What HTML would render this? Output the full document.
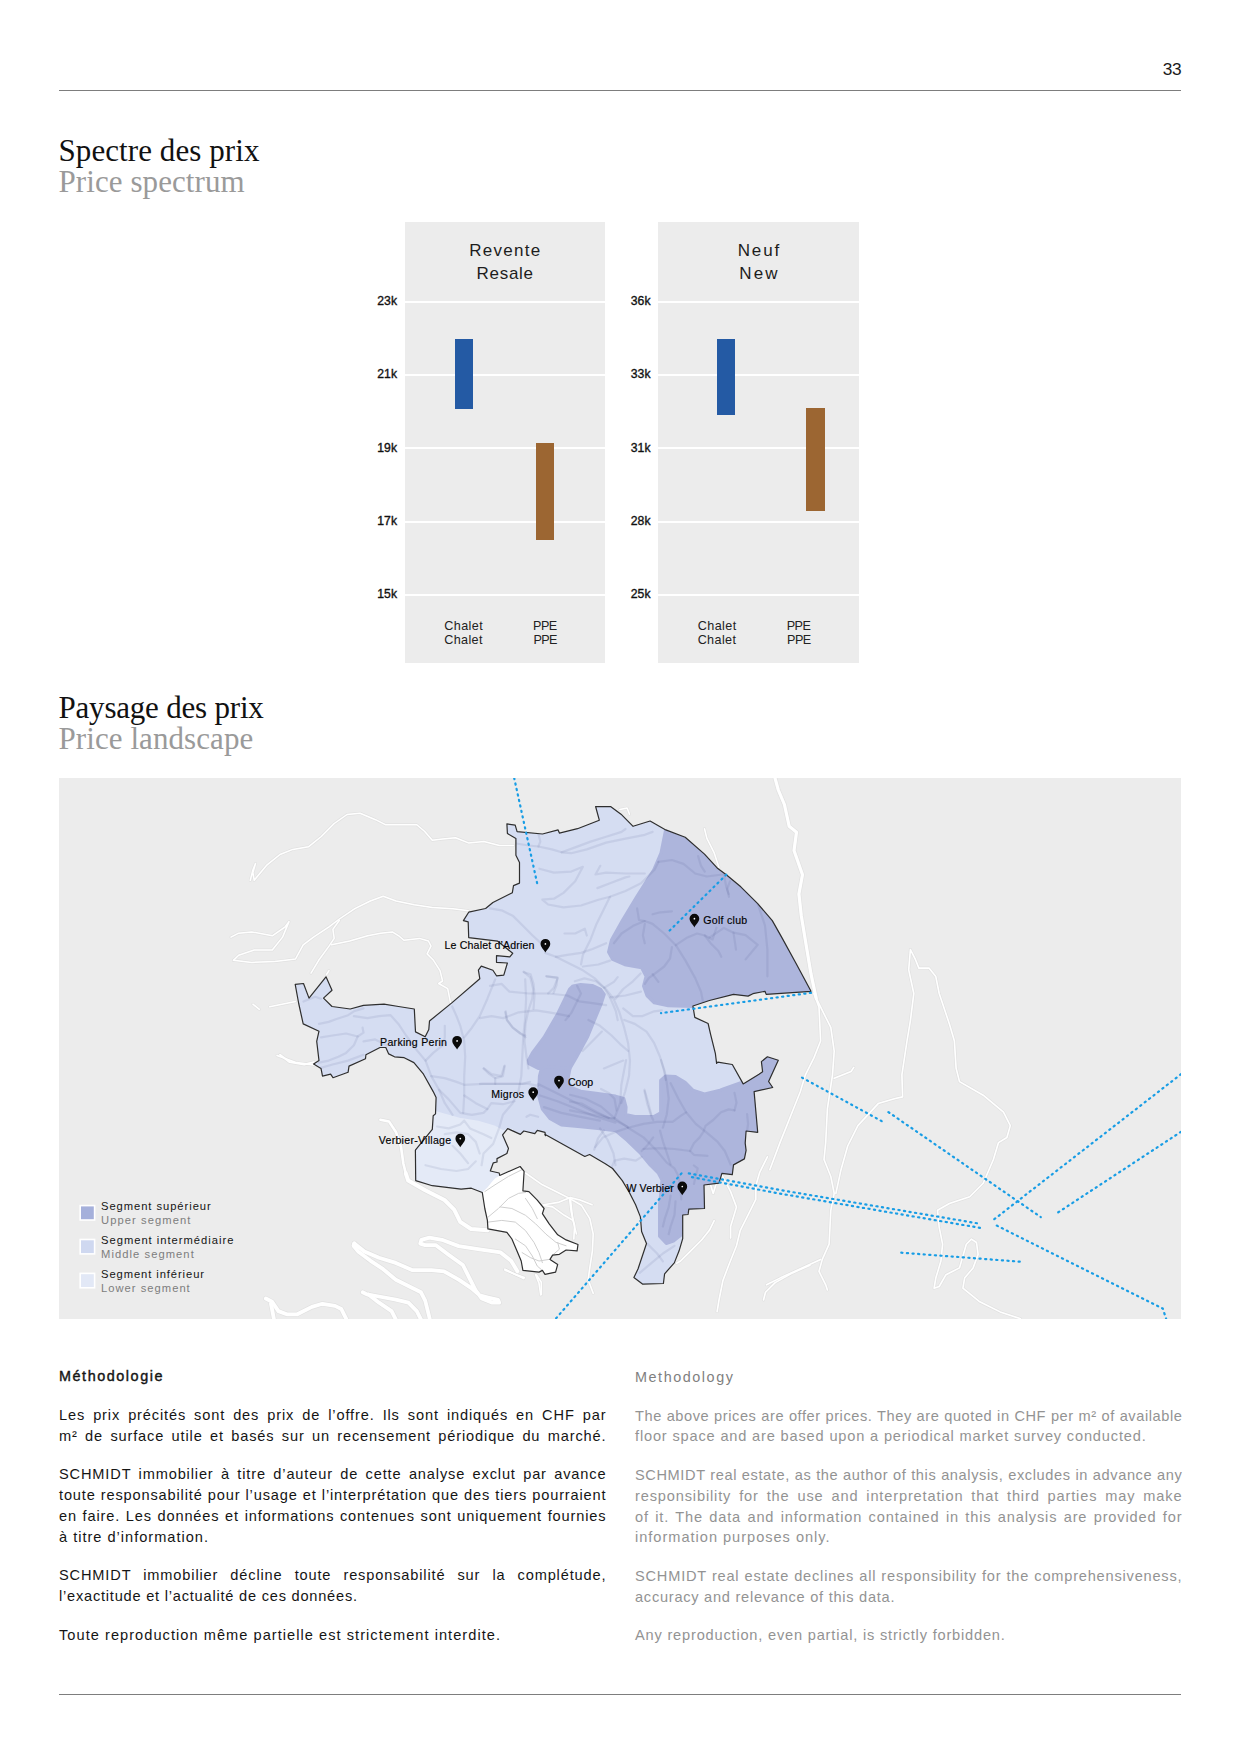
<!DOCTYPE html>
<html lang="fr">
<head>
<meta charset="utf-8">
<title>Spectre des prix – Paysage des prix</title>
<style>
  html,body{margin:0;padding:0;background:#fff;}
  body{width:1240px;height:1754px;position:relative;overflow:hidden;
       font-family:"Liberation Sans",sans-serif;color:#111;}
  .abs{position:absolute;white-space:nowrap;}
  .rule{position:absolute;left:59px;width:1122px;height:1px;background:#7d7d7d;}
  .pageno{right:59px;top:58.5px;font-size:17.3px;line-height:20px;color:#1a1a1a;letter-spacing:-.3px;margin-right:-.3px;}
  .h1{left:58.5px;font-family:"Liberation Serif",serif;font-size:31px;line-height:32px;color:#111;letter-spacing:.08px;}
  .h1.en{color:#9a9a9a;}
  /* charts */
  .panel{position:absolute;top:222px;width:200.5px;height:440.5px;background:#ececec;}
  .grid{position:absolute;left:0;width:100%;height:2px;background:#fff;}
  .ptitle{position:absolute;left:0;width:100%;text-align:center;font-size:17px;line-height:22.8px;color:#1d1d1d;white-space:nowrap;}
  .bar{position:absolute;width:18.5px;}
  .blue{background:#245aa4;}
  .brown{background:#9c6632;}
  .ytick{position:absolute;width:60px;text-align:right;font-size:12.2px;line-height:14px;color:#111;-webkit-text-stroke:.35px #111;}
  .xlab{position:absolute;width:80px;text-align:center;font-size:12.6px;line-height:13.9px;color:#222;white-space:nowrap;}
  /* map */
  #map{position:absolute;left:59px;top:778px;width:1122px;height:541px;background:#ececec;overflow:hidden;}
  /* text */
  .t{position:absolute;white-space:nowrap;font-size:14.6px;line-height:20px;color:#151515;letter-spacing:.85px;}
  .t.j{text-align:justify;text-align-last:justify;white-space:normal;width:547.4px;}
  .t.en{color:#939393;}
  .fr{left:59px;width:546px;}
  .eng{left:635px;width:546px;}
  .hd{font-size:14.4px;letter-spacing:1.55px;-webkit-text-stroke:.4px #151515;}
  .hd.en{color:#7f7f7f;font-size:14.4px;letter-spacing:1.55px;-webkit-text-stroke:0;}
</style>
</head>
<body>

<div class="abs pageno">33</div>
<div class="rule" style="top:90px"></div>

<div class="abs h1" style="top:134.9px">Spectre des prix</div>
<div class="abs h1 en" style="top:166.1px">Price spectrum</div>

<!-- chart 1 -->
<div class="panel" style="left:404.5px">
  <div class="ptitle" style="top:18.4px;letter-spacing:1.3px;text-indent:1.3px">Revente</div>
  <div class="ptitle" style="top:41.2px;letter-spacing:0.74px;text-indent:0.74px">Resale</div>
  <div class="grid" style="top:78.5px"></div>
  <div class="grid" style="top:151.8px"></div>
  <div class="grid" style="top:225.2px"></div>
  <div class="grid" style="top:298.6px"></div>
  <div class="grid" style="top:371.7px"></div>
  <div class="bar blue" style="left:50.0px;top:116.8px;height:70.0px"></div>
  <div class="bar brown" style="left:131.2px;top:220.8px;height:97.7px"></div>
  <div class="xlab" style="left:19.0px;top:398.4px;letter-spacing:0.38px;text-indent:0.38px">Chalet<br>Chalet</div>
  <div class="xlab" style="left:100.6px;top:398.4px;letter-spacing:-0.6px;text-indent:-0.6px">PPE<br>PPE</div>
</div>
<div class="ytick" style="left:337px;top:293.8px">23k</div>
<div class="ytick" style="left:337px;top:367.1px">21k</div>
<div class="ytick" style="left:337px;top:440.5px">19k</div>
<div class="ytick" style="left:337px;top:513.9px">17k</div>
<div class="ytick" style="left:337px;top:587.0px">15k</div>

<!-- chart 2 -->
<div class="panel" style="left:658.2px">
  <div class="ptitle" style="top:18.4px;letter-spacing:1.86px;text-indent:1.86px">Neuf</div>
  <div class="ptitle" style="top:41.2px;letter-spacing:2.2px;text-indent:2.2px">New</div>
  <div class="grid" style="top:78.5px"></div>
  <div class="grid" style="top:151.8px"></div>
  <div class="grid" style="top:225.2px"></div>
  <div class="grid" style="top:298.6px"></div>
  <div class="grid" style="top:371.7px"></div>
  <div class="bar blue" style="left:58.6px;top:116.8px;height:75.9px"></div>
  <div class="bar brown" style="left:147.9px;top:186.4px;height:103.1px"></div>
  <div class="xlab" style="left:18.8px;top:398.4px;letter-spacing:0.38px;text-indent:0.38px">Chalet<br>Chalet</div>
  <div class="xlab" style="left:100.6px;top:398.4px;letter-spacing:-0.6px;text-indent:-0.6px">PPE<br>PPE</div>
</div>
<div class="ytick" style="left:590.5px;top:293.8px">36k</div>
<div class="ytick" style="left:590.5px;top:367.1px">33k</div>
<div class="ytick" style="left:590.5px;top:440.5px">31k</div>
<div class="ytick" style="left:590.5px;top:513.9px">28k</div>
<div class="ytick" style="left:590.5px;top:587.0px">25k</div>

<div class="abs h1" style="top:691.9px;letter-spacing:-.2px">Paysage des prix</div>
<div class="abs h1 en" style="top:723.1px">Price landscape</div>

<div id="map">
<!--MAPSVG-->
<svg width="1122" height="541" viewBox="59 778 1122 541" style="position:absolute;left:0;top:0;font-family:'Liberation Sans',sans-serif">
<defs><clipPath id="oc"><path d="M295.2 984.3 L303.5 983.5 L309.0 998.1 L326.0 976.8 L332.0 990.3 L323.5 998.1 L332.0 1006.5 L350.2 1009.0 L363.5 1005.3 L384.0 1004.1 L398.5 1006.5 L414.3 1009.0 L415.5 1031.9 L425.2 1036.8 L428.8 1029.5 L429.5 1021.0 L451.8 1002.9 L479.8 978.7 L478.4 970.2 L481.3 966.1 L492.9 970.2 L496.5 975.8 L503.8 975.1 L507.4 963.0 L496.5 962.3 L496.5 955.7 L509.8 956.9 L512.7 953.3 L497.7 941.2 L468.7 937.6 L468.2 921.9 L463.4 920.6 L468.7 912.2 L485.6 908.5 L492.9 902.5 L512.3 892.8 L513.5 885.6 L519.5 883.1 L519.5 862.6 L515.9 855.3 L515.9 838.4 L507.4 833.5 L506.9 823.9 L515.2 825.1 L517.1 831.6 L542.5 834.0 L558.1 829.9 L559.4 833.1 L577.5 828.7 L599.3 820.2 L595.6 806.5 L610.9 806.7 L621.0 814.2 L633.1 826.3 L650.1 821.0 L665.8 829.9 L685.2 837.2 L704.5 854.1 L717.8 868.6 L726.3 874.7 L740.8 886.8 L757.7 903.7 L772.3 920.6 L781.9 937.6 L796.5 964.2 L811.0 991.3 L766.2 994.4 L765.0 991.3 L752.9 993.7 L748.1 996.1 L733.5 994.4 L709.4 1000.5 L692.9 1006.0 L694.8 1017.4 L708.1 1023.5 L710.6 1034.4 L715.4 1053.7 L716.6 1063.4 L717.8 1062.1 L732.3 1064.5 L743.2 1083.9 L759.0 1074.2 L762.6 1071.8 L761.4 1061.6 L767.4 1056.8 L778.3 1060.2 L768.6 1081.5 L772.7 1087.5 L754.1 1091.6 L757.7 1132.3 L746.1 1131.0 L745.2 1143.1 L746.1 1150.4 L744.4 1158.9 L733.5 1164.9 L732.3 1174.6 L721.9 1173.4 L719.0 1183.1 L704.0 1185.0 L704.5 1208.5 L688.8 1209.2 L688.1 1214.5 L682.7 1215.0 L682.7 1238.7 L679.1 1250.8 L674.3 1262.9 L664.6 1273.8 L663.4 1283.5 L642.8 1284.2 L633.9 1277.4 L638.0 1269.0 L646.5 1243.5 L641.6 1231.5 L640.4 1216.9 L635.6 1204.8 L629.5 1192.7 L622.3 1180.6 L612.6 1168.5 L605.3 1163.7 L589.6 1154.5 L584.8 1156.5 L544.8 1134.2 L545.5 1135.7 L545.0 1132.3 L537.3 1130.3 L534.8 1133.7 L523.8 1131.0 L520.4 1134.4 L507.7 1128.6 L502.6 1134.9 L508.5 1148.4 L506.9 1153.5 L497.0 1158.6 L497.0 1162.0 L493.3 1162.8 L490.3 1171.0 L499.2 1173.0 L499.7 1175.5 L520.1 1166.5 L524.1 1171.3 L522.9 1190.8 L528.9 1191.6 L537.3 1200.1 L544.1 1208.5 L542.4 1213.6 L549.2 1223.8 L557.7 1234.8 L566.1 1239.9 L578.0 1244.5 L577.1 1250.9 L566.1 1250.0 L559.4 1254.3 L552.6 1255.1 L550.0 1259.4 L557.7 1264.4 L555.6 1272.1 L545.0 1274.3 L542.4 1270.4 L539.0 1272.1 L522.9 1270.4 L521.2 1261.0 L517.0 1250.9 L511.9 1239.0 L506.9 1232.3 L487.9 1228.9 L487.4 1220.4 L484.8 1208.5 L482.3 1192.5 L471.3 1188.2 L461.1 1189.1 L432.3 1185.7 L415.7 1180.6 L415.4 1150.1 L432.3 1129.4 L433.2 1115.8 L435.5 1113.9 L436.1 1097.4 L433.2 1091.6 L423.5 1074.2 L413.9 1062.6 L404.2 1057.7 L394.5 1056.8 L388.7 1053.9 L385.8 1047.5 L380.0 1047.5 L365.9 1054.8 L365.5 1058.7 L349.0 1066.1 L348.1 1072.3 L333.0 1077.7 L330.6 1074.2 L322.5 1076.1 L321.0 1068.4 L313.6 1064.1 L319.0 1060.6 L316.7 1041.3 L319.0 1031.2 L303.2 1023.9 L298.7 1003.5Z"/></clipPath></defs>
<defs>
<path id="r0" d="M775.0 778.0 L778.3 790.0 L784.4 804.5 L789.2 826.3 L796.5 832.3 L794.0 850.5 L802.5 874.7 L798.9 894.0 L801.3 915.8 L806.1 944.8 L811.0 973.9 L814.6 990.8 L816.3 998.5"/>
<path id="r1" d="M813.9 993.5 L819.0 1007.1 L820.6 1041.0 L813.9 1057.9 L805.4 1074.8 L800.3 1091.8 L793.5 1108.7 L786.8 1125.6 L780.0 1142.6 L769.8 1169.7"/>
<path id="r2" d="M815.6 996.9 L824.0 1013.9 L830.8 1027.4 L834.2 1051.1 L832.5 1074.8 L827.4 1108.7 L825.7 1142.6 L824.0 1159.5 L830.8 1176.5 L834.2 1193.4 L830.8 1210.3 L829.1 1244.2 L822.3 1259.4 L819.0 1271.3 L825.7 1284.8 L827.4 1289.9"/>
<path id="r3" d="M834.2 1078.2 L851.1 1071.5 L853.8 1067.4"/>
<path id="r4" d="M766.5 1284.8 L780.0 1278.1 L820.6 1259.4"/>
<path id="r5" d="M835.9 1193.4 L841.0 1169.7 L847.7 1146.0 L857.9 1125.6 L878.2 1103.6 L895.2 1098.5 L902.6 1096.9 L901.9 1074.8 L907.0 1041.0 L910.4 1020.6 L913.8 993.5 L908.7 969.8 L910.4 949.5 L915.5 959.7 L918.9 968.1 L929.0 968.1 L935.8 976.6 L939.2 993.5 L949.4 1024.0 L954.4 1041.0 L956.1 1068.1 L959.5 1081.6 L983.2 1095.2 L1003.5 1112.1 L1010.3 1125.6 L1006.9 1137.5 L998.5 1142.6 L993.4 1159.5 L983.2 1183.2 L969.7 1196.8 L949.4 1203.5 L937.5 1210.3 L939.2 1227.3 L942.6 1244.2 L940.9 1261.1 L935.8 1278.1 L934.1 1288.2 L939.2 1286.5 L946.0 1274.7 L959.5 1267.9 L966.3 1244.2 L971.4 1239.1 L976.5 1242.5 L978.1 1254.4 L973.1 1267.9 L964.6 1278.1 L962.9 1288.2 L979.8 1301.8 L1000.2 1311.9 L1020.5 1318.7"/>
<path id="r6" d="M250.3 880.3 L252.9 870.0 L255.5 863.5 L252.9 872.6 L254.2 880.3 L267.1 864.8 L280.0 854.5 L292.9 849.4 L308.4 846.8 L321.3 836.5 L334.2 823.5 L347.1 814.5 L360.0 813.2 L375.5 819.7 L385.8 824.8 L401.3 824.8 L416.8 824.8 L424.5 831.3 L432.3 840.3 L442.6 839.0 L455.5 837.7 L468.4 842.9 L483.9 841.6 L499.4 845.5 L513.5 845.5"/>
<path id="r7" d="M233.5 960.3 L238.7 955.2 L254.2 950.0 L272.3 950.0 L282.6 937.1 L289.0 921.6 L285.2 926.8 L272.3 935.8 L251.6 931.9 L238.7 933.2 L231.0 937.1"/>
<path id="r8" d="M233.5 960.3 L251.6 962.4 L274.8 961.6 L295.5 959.0 L303.2 944.8 L313.5 937.1 L329.0 926.8 L339.4 919.0 L354.8 908.7 L370.3 901.0 L383.2 896.3 L396.1 901.0 L414.2 904.8 L432.3 907.4 L452.9 908.7 L468.4 910.8"/>
<path id="r9" d="M311.0 973.2 L318.7 960.3 L329.0 946.1 L334.2 938.4 L332.9 929.4 L339.4 920.3"/>
<path id="r10" d="M331.6 944.8 L349.7 941.0 L367.7 935.8 L380.6 933.2 L392.3 931.9 L398.7 935.8 L403.9 940.2 L419.4 938.4 L428.4 941.0 L431.0 946.1 L427.1 953.9 L433.5 960.3 L440.0 970.6 L442.6 981.0 L438.7 983.5 L447.7 988.7 L450.8 1004.2"/>
<path id="r11" d="M252.9 1004.2 L259.4 1009.4"/>
<path id="r12" d="M269.7 1006.8 L295.5 1001.6"/>
<path id="r13" d="M326.5 974.5 L329.0 970.6"/>
<path id="r14" d="M277.1 1055.5 L296.5 1062.7 L315.8 1065.2"/>
<path id="r15" d="M380.4 1119.7 L388.9 1121.4 L396.1 1132.3 L401.0 1146.8 L403.4 1163.7 L405.8 1173.4"/>
<path id="r16" d="M405.8 1173.4 L408.2 1180.6 L425.2 1190.3 L444.5 1200.0 L454.2 1209.7 L460.2 1221.8 L471.1 1229.0 L487.6 1230.2"/>
<path id="r17" d="M517.4 1271.3 L511.1 1260.8 L500.6 1252.4 L479.7 1249.3 L458.7 1246.1 L441.9 1239.8 L429.4 1237.7 L421.4 1239.8 L420.3 1243.6 L425.2 1245.1 L435.6 1245.1 L448.2 1254.5 L462.9 1265.0 L469.2 1277.6 L475.5 1290.2 L481.8 1298.5 L492.3 1302.7 L499.2 1302.7 L498.1 1299.8 L488.1 1297.5 L479.7 1295.4 L471.3 1288.1 L458.7 1279.7 L444.0 1271.3 L431.5 1270.2 L412.6 1270.2 L395.8 1262.9 L379.0 1257.7 L364.4 1251.4 L354.3 1243.4"/>
<path id="r18" d="M354.3 1243.4 L353.5 1245.7 L358.1 1251.4 L370.6 1260.8 L383.2 1269.2 L395.8 1279.7 L408.4 1286.0 L421.0 1292.3 L425.2 1300.6 L429.4 1317.4 L431.0 1325.8"/>
<path id="r19" d="M362.7 1292.3 L366.9 1294.4 L379.0 1296.5 L395.8 1299.6 L408.4 1302.7 L416.8 1311.1 L424.1 1325.8"/>
<path id="r20" d="M368.5 1294.4 L379.0 1302.7 L391.6 1311.1 L399.0 1325.8"/>
<path id="r21" d="M265.8 1298.5 L272.1 1301.7 L278.4 1311.1 L286.8 1314.3 L297.3 1314.3 L311.9 1306.9 L322.4 1303.8 L335.0 1305.9 L341.3 1309.0 L349.7 1325.8"/>
<path id="r22" d="M271.0 1303.8 L275.2 1325.8"/>
<path id="r23" d="M504.8 1269.2 L513.2 1273.4 L523.7 1278.6"/>
<path id="r24" d="M280.0 1054.8 L289.7 1062.1 L304.2 1064.5 L313.9 1062.1"/>
<path id="r25" d="M543.7 1204.8 L558.2 1202.4 L570.3 1197.6 L580.0 1200.0 L592.1 1204.8"/>
<path id="r26" d="M570.3 1197.6 L572.7 1219.4 L576.4 1233.9"/>
<path id="r27" d="M505.0 1270.2 L517.1 1275.0 L524.4 1277.4"/>
<path id="r28" d="M536.5 1275.0 L541.3 1282.3 L541.3 1294.4"/>
<path id="r29" d="M714.2 1220.6 L709.4 1230.3 L701.6 1240.0 L690.0 1251.6 L680.3 1261.3 L676.5 1263.2"/>
<path id="r30" d="M721.0 1173.2 L730.6 1191.6 L736.5 1207.1 L730.6 1226.5 L730.6 1238.1"/>
<path id="r31" d="M810.0 1265.2 L792.6 1272.9 L775.2 1282.6 L765.5 1292.3 L763.5 1300.0"/>
<path id="r32" d="M710.3 1183.9 L713.2 1193.5 L716.1 1183.9"/>
<path id="r33" d="M525.5 1173.0 L542.4 1184.8 L559.4 1193.3 L569.5 1198.4 L581.4 1205.2 L589.8 1218.7 L593.2 1234.0 L592.4 1250.9 L589.8 1267.8 L588.1 1279.7 L593.2 1293.2"/>
<path id="r34" d="M569.5 1198.4 L571.2 1211.9 L574.6 1225.5 L573.8 1239.0"/>
<path id="r35" d="M542.4 1205.2 L552.6 1206.9 L564.4 1215.3 L572.9 1220.4"/>
<path id="r36" d="M505.2 1269.5 L515.3 1274.6 L523.8 1278.0"/>
<path id="r37" d="M535.6 1274.6 L539.0 1283.1 L540.7 1294.9"/>
<path id="r38" d="M767.4 1156.8 L759.7 1172.3 L755.8 1185.8 L755.8 1199.4 L748.1 1214.8 L740.3 1230.3 L736.5 1245.8 L728.7 1265.2 L722.9 1280.6 L719.0 1300.0 L717.1 1311.6"/>
<path id="r39" d="M704.5 828.7 L706.9 838.4 L714.2 852.9 L719.0 867.4"/>
<path id="r40" d="M619.8 809.4 L627.1 808.1 L629.5 814.2"/>
</defs>
<g fill="none" stroke="#e1e1e1" stroke-linecap="round" stroke-linejoin="round">
<use href="#r0" stroke-width="4.6"/>
<use href="#r1" stroke-width="3.0"/>
<use href="#r2" stroke-width="3.0"/>
<use href="#r3" stroke-width="3.0"/>
<use href="#r4" stroke-width="3.0"/>
<use href="#r5" stroke-width="3.0"/>
<use href="#r6" stroke-width="2.9"/>
<use href="#r7" stroke-width="2.9"/>
<use href="#r8" stroke-width="2.9"/>
<use href="#r9" stroke-width="2.9"/>
<use href="#r10" stroke-width="2.9"/>
<use href="#r11" stroke-width="2.9"/>
<use href="#r12" stroke-width="2.9"/>
<use href="#r13" stroke-width="2.9"/>
<use href="#r14" stroke-width="3.1"/>
<use href="#r15" stroke-width="4.0"/>
<use href="#r16" stroke-width="5.4"/>
<use href="#r17" stroke-width="5.2"/>
<use href="#r18" stroke-width="5.2"/>
<use href="#r19" stroke-width="5.2"/>
<use href="#r20" stroke-width="5.2"/>
<use href="#r21" stroke-width="5.2"/>
<use href="#r22" stroke-width="5.2"/>
<use href="#r23" stroke-width="3.0"/>
<use href="#r24" stroke-width="3.4"/>
<use href="#r25" stroke-width="3.0"/>
<use href="#r26" stroke-width="3.0"/>
<use href="#r27" stroke-width="3.0"/>
<use href="#r28" stroke-width="3.0"/>
<use href="#r29" stroke-width="3.0"/>
<use href="#r30" stroke-width="3.0"/>
<use href="#r31" stroke-width="3.0"/>
<use href="#r32" stroke-width="3.0"/>
<use href="#r33" stroke-width="3.0"/>
<use href="#r34" stroke-width="3.0"/>
<use href="#r35" stroke-width="3.0"/>
<use href="#r36" stroke-width="3.0"/>
<use href="#r37" stroke-width="3.0"/>
<use href="#r38" stroke-width="3.0"/>
<use href="#r39" stroke-width="2.9"/>
<use href="#r40" stroke-width="2.9"/>
</g>
<g fill="none" stroke="#fff" stroke-linecap="round" stroke-linejoin="round">
<use href="#r0" stroke-width="3.2"/>
<use href="#r1" stroke-width="1.6"/>
<use href="#r2" stroke-width="1.6"/>
<use href="#r3" stroke-width="1.6"/>
<use href="#r4" stroke-width="1.6"/>
<use href="#r5" stroke-width="1.6"/>
<use href="#r6" stroke-width="1.5"/>
<use href="#r7" stroke-width="1.5"/>
<use href="#r8" stroke-width="1.5"/>
<use href="#r9" stroke-width="1.5"/>
<use href="#r10" stroke-width="1.5"/>
<use href="#r11" stroke-width="1.5"/>
<use href="#r12" stroke-width="1.5"/>
<use href="#r13" stroke-width="1.5"/>
<use href="#r14" stroke-width="1.7"/>
<use href="#r15" stroke-width="2.6"/>
<use href="#r16" stroke-width="4"/>
<use href="#r17" stroke-width="3.8"/>
<use href="#r18" stroke-width="3.8"/>
<use href="#r19" stroke-width="3.8"/>
<use href="#r20" stroke-width="3.8"/>
<use href="#r21" stroke-width="3.8"/>
<use href="#r22" stroke-width="3.8"/>
<use href="#r23" stroke-width="1.6"/>
<use href="#r24" stroke-width="2"/>
<use href="#r25" stroke-width="1.6"/>
<use href="#r26" stroke-width="1.6"/>
<use href="#r27" stroke-width="1.6"/>
<use href="#r28" stroke-width="1.6"/>
<use href="#r29" stroke-width="1.6"/>
<use href="#r30" stroke-width="1.6"/>
<use href="#r31" stroke-width="1.6"/>
<use href="#r32" stroke-width="1.6"/>
<use href="#r33" stroke-width="1.6"/>
<use href="#r34" stroke-width="1.6"/>
<use href="#r35" stroke-width="1.6"/>
<use href="#r36" stroke-width="1.6"/>
<use href="#r37" stroke-width="1.6"/>
<use href="#r38" stroke-width="1.6"/>
<use href="#r39" stroke-width="1.5"/>
<use href="#r40" stroke-width="1.5"/>
</g>
<g clip-path="url(#oc)">
<path d="M295.2 984.3 L303.5 983.5 L309.0 998.1 L326.0 976.8 L332.0 990.3 L323.5 998.1 L332.0 1006.5 L350.2 1009.0 L363.5 1005.3 L384.0 1004.1 L398.5 1006.5 L414.3 1009.0 L415.5 1031.9 L425.2 1036.8 L428.8 1029.5 L429.5 1021.0 L451.8 1002.9 L479.8 978.7 L478.4 970.2 L481.3 966.1 L492.9 970.2 L496.5 975.8 L503.8 975.1 L507.4 963.0 L496.5 962.3 L496.5 955.7 L509.8 956.9 L512.7 953.3 L497.7 941.2 L468.7 937.6 L468.2 921.9 L463.4 920.6 L468.7 912.2 L485.6 908.5 L492.9 902.5 L512.3 892.8 L513.5 885.6 L519.5 883.1 L519.5 862.6 L515.9 855.3 L515.9 838.4 L507.4 833.5 L506.9 823.9 L515.2 825.1 L517.1 831.6 L542.5 834.0 L558.1 829.9 L559.4 833.1 L577.5 828.7 L599.3 820.2 L595.6 806.5 L610.9 806.7 L621.0 814.2 L633.1 826.3 L650.1 821.0 L665.8 829.9 L685.2 837.2 L704.5 854.1 L717.8 868.6 L726.3 874.7 L740.8 886.8 L757.7 903.7 L772.3 920.6 L781.9 937.6 L796.5 964.2 L811.0 991.3 L766.2 994.4 L765.0 991.3 L752.9 993.7 L748.1 996.1 L733.5 994.4 L709.4 1000.5 L692.9 1006.0 L694.8 1017.4 L708.1 1023.5 L710.6 1034.4 L715.4 1053.7 L716.6 1063.4 L717.8 1062.1 L732.3 1064.5 L743.2 1083.9 L759.0 1074.2 L762.6 1071.8 L761.4 1061.6 L767.4 1056.8 L778.3 1060.2 L768.6 1081.5 L772.7 1087.5 L754.1 1091.6 L757.7 1132.3 L746.1 1131.0 L745.2 1143.1 L746.1 1150.4 L744.4 1158.9 L733.5 1164.9 L732.3 1174.6 L721.9 1173.4 L719.0 1183.1 L704.0 1185.0 L704.5 1208.5 L688.8 1209.2 L688.1 1214.5 L682.7 1215.0 L682.7 1238.7 L679.1 1250.8 L674.3 1262.9 L664.6 1273.8 L663.4 1283.5 L642.8 1284.2 L633.9 1277.4 L638.0 1269.0 L646.5 1243.5 L641.6 1231.5 L640.4 1216.9 L635.6 1204.8 L629.5 1192.7 L622.3 1180.6 L612.6 1168.5 L605.3 1163.7 L589.6 1154.5 L584.8 1156.5 L544.8 1134.2 L545.5 1135.7 L545.0 1132.3 L537.3 1130.3 L534.8 1133.7 L523.8 1131.0 L520.4 1134.4 L507.7 1128.6 L502.6 1134.9 L508.5 1148.4 L506.9 1153.5 L497.0 1158.6 L497.0 1162.0 L493.3 1162.8 L490.3 1171.0 L499.2 1173.0 L499.7 1175.5 L520.1 1166.5 L524.1 1171.3 L522.9 1190.8 L528.9 1191.6 L537.3 1200.1 L544.1 1208.5 L542.4 1213.6 L549.2 1223.8 L557.7 1234.8 L566.1 1239.9 L578.0 1244.5 L577.1 1250.9 L566.1 1250.0 L559.4 1254.3 L552.6 1255.1 L550.0 1259.4 L557.7 1264.4 L555.6 1272.1 L545.0 1274.3 L542.4 1270.4 L539.0 1272.1 L522.9 1270.4 L521.2 1261.0 L517.0 1250.9 L511.9 1239.0 L506.9 1232.3 L487.9 1228.9 L487.4 1220.4 L484.8 1208.5 L482.3 1192.5 L471.3 1188.2 L461.1 1189.1 L432.3 1185.7 L415.7 1180.6 L415.4 1150.1 L432.3 1129.4 L433.2 1115.8 L435.5 1113.9 L436.1 1097.4 L433.2 1091.6 L423.5 1074.2 L413.9 1062.6 L404.2 1057.7 L394.5 1056.8 L388.7 1053.9 L385.8 1047.5 L380.0 1047.5 L365.9 1054.8 L365.5 1058.7 L349.0 1066.1 L348.1 1072.3 L333.0 1077.7 L330.6 1074.2 L322.5 1076.1 L321.0 1068.4 L313.6 1064.1 L319.0 1060.6 L316.7 1041.3 L319.0 1031.2 L303.2 1023.9 L298.7 1003.5Z" fill="#d5ddf2"/>
<path d="M429.0 1110.3 L445.9 1114.9 L461.1 1119.1 L478.1 1121.7 L495.0 1126.8 L502.6 1131.0 L511.9 1129.8 L511.9 1161.1 L498.4 1174.7 L494.7 1178.9 L491.3 1183.1 L486.5 1188.2 L481.5 1195.0 L406.9 1191.6 L406.9 1123.9Z" fill="#e4eaf7" stroke="#e4eaf7" stroke-width="2" stroke-linejoin="round"/>
<path d="M482.3 1192.5 L487.4 1187.4 L491.6 1182.3 L495.0 1178.4 L499.7 1175.5 L520.4 1164.5 L593.2 1208.5 L593.2 1284.8 L508.5 1284.8 L484.8 1234.0Z" fill="#fff"/>
<path d="M665.8 828.7 L661.0 852.9 L653.7 869.8 L636.8 896.5 L622.3 920.6 L611.4 940.0 L608.5 952.1 L612.6 959.4 L624.7 964.7 L641.6 967.8 L646.0 976.3 L643.5 986.0 L646.9 995.6 L654.2 1002.9 L668.2 1005.8 L692.9 1006.5 L709.4 1002.9 L815.8 995.6 L815.8 983.5 L728.7 862.6 L685.2 833.5Z" fill="#adb5dc" stroke="#adb5dc" stroke-width="3" stroke-linejoin="round"/>
<path d="M569.4 989.4 L572.9 985.9 L580.6 984.6 L592.3 985.4 L600.4 989.0 L604.3 994.3 L601.0 1004.5 L596.1 1016.1 L587.4 1037.4 L576.8 1056.8 L570.0 1068.4 L538.1 1068.4 L528.8 1063.7 L528.4 1060.1 L532.3 1052.9 L543.9 1037.4 L557.4 1014.2Z" fill="#adb5dc" stroke="#adb5dc" stroke-width="3" stroke-linejoin="round"/>
<path d="M539.4 1076.1 L540.8 1070.7 L545.2 1066.5 L570.0 1068.8 L568.5 1076.1 L567.9 1081.0 L571.4 1087.4 L580.6 1091.2 L596.1 1093.2 L615.5 1096.1 L623.8 1098.4 L626.1 1107.1 L625.7 1114.5 L634.8 1116.4 L654.2 1116.4 L660.6 1112.9 L660.6 1080.4 L665.4 1076.1 L675.5 1076.5 L685.2 1082.3 L692.9 1090.1 L704.5 1093.9 L720.0 1090.1 L723.9 1088.7 L740.8 1082.7 L759.0 1073.0 L761.4 1060.9 L767.4 1056.0 L779.5 1059.7 L769.8 1081.5 L773.5 1087.5 L755.3 1091.6 L759.0 1133.5 L746.9 1132.3 L745.6 1158.9 L733.5 1166.1 L732.3 1175.8 L720.2 1175.8 L719.0 1184.3 L704.5 1185.5 L705.0 1209.7 L688.8 1210.2 L682.7 1215.7 L682.7 1233.9 L673.5 1241.1 L666.3 1243.5 L659.5 1236.3 L659.5 1204.8 L661.0 1190.3 L661.9 1180.1 L658.1 1172.9 L650.3 1165.2 L640.6 1153.5 L627.1 1140.4 L615.5 1130.7 L600.0 1128.8 L580.6 1126.8 L561.3 1124.9 L550.1 1118.7 L542.3 1109.0 L538.5 1095.5Z" fill="#adb5dc" stroke="#adb5dc" stroke-width="3" stroke-linejoin="round"/>
<g fill="none" stroke="#3a4680" stroke-opacity=".10" stroke-linecap="round" stroke-linejoin="round">
<path stroke-width="2.2" d="M516.1 843.5 L528.7 845.5 L538.4 846.5 L551.9 849.4 L561.6 852.3 L575.2 847.4 L590.6 841.6 L606.1 836.8 L621.6 831.9 L625.5 829.0"/>
<path stroke-width="2.2" d="M538.4 833.9 L540.3 841.6 L538.4 846.5"/>
<path stroke-width="2.2" d="M561.6 852.3 L571.3 853.2 L586.8 849.4 L606.1 842.6 L625.5 838.7 L644.8 834.8 L652.6 831.9"/>
<path stroke-width="2.2" d="M539.4 868.7 L553.9 872.6 L571.3 871.6 L582.9 866.8 L575.2 881.3 L563.5 892.9 L553.9 898.7 L542.3 899.7 L548.1 904.5 L563.5 907.4 L581.0 905.5 L598.4 899.7 L610.0 896.8 L625.5 891.0 L641.0 883.2 L654.5 869.7 L658.4 861.9"/>
<path stroke-width="2.2" d="M600.3 865.8 L595.5 874.5 L606.1 872.6 L625.5 873.5 L644.8 873.5"/>
<path stroke-width="2.2" d="M597.4 888.1 L610.0 883.2 L625.5 877.4 L629.4 876.5"/>
<path stroke-width="2.2" d="M610.0 896.8 L604.2 908.4 L596.5 923.9 L590.6 939.4 L582.9 954.8 L581.0 964.5"/>
<path stroke-width="2.2" d="M490.0 908.4 L501.6 910.3 L513.2 916.1 L522.9 925.8 L532.6 935.5 L545.2 947.1"/>
<path stroke-width="2.2" d="M564.5 933.5 L575.2 933.5 L584.8 928.7 L586.8 935.5"/>
<path stroke-width="2.2" d="M545.2 952.9 L555.8 956.8 L571.3 964.5 L582.9 970.3 L594.5 978.1 L604.2 987.7 L610.0 997.4 L615.8 1011.0 L617.7 1020.1"/>
<path stroke-width="2.2" d="M555.8 956.8 L567.4 954.8 L581.0 952.9 L592.6 949.0 L606.1 943.2"/>
<path stroke-width="2.2" d="M582.9 966.5 L598.4 964.5 L610.0 960.6"/>
<path stroke-width="2.2" d="M604.2 987.7 L613.9 981.9 L617.7 977.1"/>
<path stroke-width="2.2" d="M523.9 972.3 L530.6 974.2 L533.5 983.9 L534.5 995.5 L533.5 1009.0"/>
<path stroke-width="2.2" d="M546.1 976.1 L557.7 978.1 L553.9 987.7 L548.1 993.5"/>
<path stroke-width="2.2" d="M490.0 985.8 L501.6 983.9 L509.4 991.6 L528.7 993.5 L548.1 993.5 L567.4 995.5 L579.0 1001.3 L592.6 1003.2 L606.1 1005.2"/>
<path stroke-width="2.2" d="M577.1 985.8 L581.0 993.5 L571.3 1012.9 L565.5 1020.1"/>
<path stroke-width="2.2" d="M610.0 997.4 L625.5 995.5 L641.0 991.6"/>
<path stroke-width="2.2" d="M658.4 861.9 L671.9 860.0 L683.5 863.9 L695.2 873.5 L706.8 876.5 L722.3 874.5"/>
<path stroke-width="2.2" d="M698.1 856.1 L701.0 865.8 L704.8 871.6"/>
<path stroke-width="2.2" d="M613.9 943.2 L621.6 933.5 L633.2 925.8 L644.8 921.0 L652.6 923.9 L664.2 933.5 L675.8 945.2 L685.5 960.6 L695.2 978.1 L701.0 991.6 L702.9 1001.3"/>
<path stroke-width="2.2" d="M637.1 908.4 L639.0 920.0 L644.8 921.0"/>
<path stroke-width="2.2" d="M652.6 914.2 L660.3 912.3 L671.9 911.3"/>
<path stroke-width="2.2" d="M644.8 923.9 L642.9 935.5 L644.8 943.2"/>
<path stroke-width="2.2" d="M675.8 945.2 L687.4 937.4 L697.1 933.5 L704.8 935.5 L710.6 943.2 L718.4 951.0 L721.3 956.8"/>
<path stroke-width="2.2" d="M671.9 947.1 L670.0 958.7 L664.2 966.5 L656.5 972.3 L648.7 978.1 L644.8 983.9"/>
<path stroke-width="2.2" d="M652.6 974.2 L658.4 981.9"/>
<path stroke-width="2.2" d="M704.8 935.5 L712.6 939.4 L714.5 933.5 L716.5 927.7"/>
<path stroke-width="2.2" d="M730.0 881.3 L727.1 889.0 L729.0 896.8"/>
<path stroke-width="2.2" d="M757.7 903.7 L765.0 925.5 L767.4 949.7 L767.4 976.3"/>
<path stroke-width="2.2" d="M709.4 937.6 L723.9 927.9 L733.5 932.7 L736.0 949.7"/>
<path stroke-width="2.2" d="M733.5 932.7 L745.6 935.2 L757.7 944.8 L745.6 959.4"/>
<path stroke-width="2.2" d="M723.9 874.7 L726.3 886.8 L728.7 894.0"/>
<path stroke-width="2.2" d="M303.5 1001.6 L315.2 996.8 L321.0 998.7"/>
<path stroke-width="2.2" d="M319.0 1023.9 L328.7 1021.9 L336.5 1019.0 L348.1 1015.2 L353.9 1011.3 L363.5 1008.4"/>
<path stroke-width="2.2" d="M321.0 1037.4 L332.6 1035.5 L346.1 1033.5 L357.7 1036.5 L363.5 1032.6 L362.6 1027.7"/>
<path stroke-width="2.2" d="M357.7 1036.5 L353.9 1045.2 L346.1 1052.9 L338.4 1056.8 L328.7 1060.6 L319.0 1062.6"/>
<path stroke-width="2.2" d="M353.9 1016.1 L367.4 1018.1 L379.0 1016.1 L390.6 1015.2 L398.4 1023.9 L406.1 1035.5 L415.8 1049.0 L425.5 1060.6 L431.3 1076.1 L439.0 1089.7 L444.8 1103.2 L452.6 1114.8"/>
<path stroke-width="2.2" d="M363.5 1041.3 L375.2 1039.4 L386.8 1045.2"/>
<path stroke-width="2.2" d="M319.0 1068.4 L332.6 1064.5 L348.1 1060.6 L363.5 1054.8"/>
<path stroke-width="2.2" d="M425.5 1060.6 L433.2 1052.9 L442.9 1045.2 L444.8 1037.4 L444.8 1025.8"/>
<path stroke-width="2.2" d="M452.2 1006.5 L456.5 1016.1 L460.3 1025.8 L464.2 1041.3 L465.2 1056.8 L464.2 1076.1 L464.2 1095.5 L463.2 1112.9"/>
<path stroke-width="2.2" d="M495.2 979.4 L487.4 998.7 L479.7 1016.1 L471.9 1027.7 L464.2 1037.4"/>
<path stroke-width="2.2" d="M505.8 1011.3 L506.8 1020.0 L512.6 1027.7 L520.3 1033.5 L525.2 1035.5"/>
<path stroke-width="2.2" d="M431.3 1076.1 L444.8 1078.1 L456.5 1081.9 L464.2 1084.8 L483.5 1083.9 L502.9 1083.9 L522.3 1083.9 L530.0 1081.9"/>
<path stroke-width="2.2" d="M483.5 1068.4 L489.4 1074.2 L495.2 1078.1 L502.9 1076.1 L504.8 1065.5"/>
<path stroke-width="2.2" d="M495.2 1078.1 L495.2 1083.9"/>
<path stroke-width="2.2" d="M525.2 979.4 L526.1 998.7 L525.2 1018.1 L523.2 1037.4 L522.3 1056.8 L521.3 1076.1 L518.4 1091.6 L512.6 1103.2 L502.9 1114.8 L499.0 1128.4 L493.2 1143.9 L483.5 1153.5 L481.6 1165.2"/>
<path stroke-width="2.2" d="M464.2 1095.5 L475.8 1103.2 L487.4 1109.0 L491.3 1103.2 L502.9 1104.2 L514.5 1101.3"/>
<path stroke-width="2.2" d="M439.0 1089.7 L448.7 1099.4 L460.3 1112.9 L471.9 1114.8 L483.5 1112.9 L487.4 1109.0"/>
<path stroke-width="2.2" d="M437.1 1126.5 L448.7 1128.4 L460.3 1124.5 L464.2 1120.6 L470.0 1128.4 L483.5 1134.2 L491.3 1138.1"/>
<path stroke-width="2.2" d="M444.8 1134.2 L456.5 1132.3 L468.1 1134.2 L475.8 1141.9 L479.7 1153.5"/>
<path stroke-width="2.2" d="M425.5 1165.2 L441.0 1169.0 L456.5 1171.0 L468.1 1169.0 L475.8 1161.3"/>
<path stroke-width="2.2" d="M452.6 1145.8 L460.3 1153.5 L468.1 1163.2"/>
<path stroke-width="2.2" d="M570.0 1094.8 L585.5 1098.7 L601.0 1106.5 L614.5 1118.1 L628.1 1127.7 L643.5 1137.4 L657.1 1151.0 L666.8 1162.6 L674.5 1168.4 L678.4 1176.1 L680.3 1185.8 L681.3 1199.4"/>
<path stroke-width="2.2" d="M570.0 1110.3 L589.4 1114.2 L608.7 1118.1 L614.5 1118.1"/>
<path stroke-width="2.2" d="M570.0 1101.6 L581.6 1103.5 L597.1 1112.3 L608.7 1118.1"/>
<path stroke-width="2.2" d="M614.5 1118.1 L620.3 1102.6 L621.3 1085.2 L624.2 1069.7 L626.1 1060.0"/>
<path stroke-width="2.2" d="M601.0 1089.0 L608.7 1092.9 L614.5 1098.7 L616.5 1110.3"/>
<path stroke-width="2.2" d="M644.5 1091.0 L647.4 1104.5 L651.3 1116.1 L653.2 1120.0"/>
<path stroke-width="2.2" d="M661.0 1060.0 L664.8 1071.6 L666.8 1083.2 L668.7 1098.7 L666.8 1114.2 L662.9 1127.7"/>
<path stroke-width="2.2" d="M670.6 1083.2 L678.4 1098.7 L686.1 1112.3 L695.8 1123.9 L705.5 1131.6 L717.1 1141.3 L724.8 1151.0 L730.6 1164.5"/>
<path stroke-width="2.2" d="M628.1 1127.7 L643.5 1123.9 L657.1 1121.9 L672.6 1121.9 L680.3 1116.1 L686.1 1112.3"/>
<path stroke-width="2.2" d="M660.0 1130.6 L662.9 1141.3 L666.8 1152.9 L670.6 1164.5"/>
<path stroke-width="2.2" d="M653.2 1137.4 L647.4 1145.2 L641.6 1151.0"/>
<path stroke-width="2.2" d="M643.5 1149.0 L659.0 1148.1 L674.5 1149.0 L690.0 1151.0 L693.9 1143.2 L699.7 1137.4 L703.5 1131.6 L705.5 1125.8 L713.2 1120.0 L721.0 1112.3 L728.7 1109.4 L734.5 1110.3"/>
<path stroke-width="2.2" d="M690.0 1151.0 L693.9 1154.8 L707.4 1155.8"/>
<path stroke-width="2.2" d="M734.5 1092.9 L736.5 1102.6 L734.5 1110.3"/>
<path stroke-width="2.2" d="M747.1 1114.2 L748.1 1123.9 L747.1 1130.6"/>
<path stroke-width="2.2" d="M595.2 1147.1 L602.9 1137.4 L616.5 1131.6 L628.1 1127.7"/>
<path stroke-width="2.2" d="M611.6 1167.4 L614.5 1160.6 L624.2 1158.7 L635.8 1160.6 L641.6 1156.8"/>
<path stroke-width="2.2" d="M670.6 1195.5 L668.7 1207.1 L664.8 1218.7 L662.9 1226.5"/>
<path stroke-width="2.2" d="M675.5 1201.3 L674.5 1214.8 L670.6 1226.5 L668.7 1234.2"/>
<path stroke-width="2.2" d="M693.9 1165.5 L697.7 1168.4 L695.8 1176.1 L693.9 1183.9"/>
<path stroke-width="2.2" d="M647.4 1243.9 L657.1 1253.5 L662.9 1261.3"/>
<path stroke-width="2.2" d="M639.7 1272.9 L651.3 1263.2 L662.9 1253.5 L674.5 1245.8"/>
<path stroke-width="2.2" d="M523.5 971.6 L530.3 977.4 L533.2 989.0 L532.3 998.7 L528.4 1010.3 L525.5 1023.9 L524.5 1041.3 L526.5 1056.8 L528.4 1068.4"/>
<path stroke-width="2.2" d="M505.2 1012.3 L507.1 1020.0 L512.9 1027.7 L520.6 1033.5 L525.5 1037.4"/>
<path stroke-width="2.2" d="M546.8 976.5 L557.4 977.4 L556.5 985.2 L553.5 992.9"/>
<path stroke-width="2.2" d="M480.0 1018.1 L491.6 1016.1 L503.2 1018.1 L518.7 1012.3 L536.1 1010.3 L553.5 1013.2 L569.0 1016.1"/>
<path stroke-width="2.2" d="M574.8 981.3 L584.5 978.4 L596.1 981.3 L605.8 989.0 L613.5 998.7 L619.4 1012.3 L624.2 1027.7 L628.1 1043.2 L630.0 1060.6 L629.0 1076.1 L625.2 1091.6 L621.3 1103.2"/>
<path stroke-width="2.2" d="M588.4 1020.0 L600.0 1025.8 L611.6 1035.5 L621.3 1045.2 L628.1 1051.0"/>
<path stroke-width="2.2" d="M601.9 1031.6 L592.3 1041.3 L582.6 1051.0"/>
<path stroke-width="2.2" d="M624.2 1020.0 L634.8 1023.9 L646.5 1031.6 L654.2 1043.2 L660.0 1056.8 L663.9 1070.3 L665.8 1080.0"/>
<path stroke-width="2.2" d="M623.2 1008.4 L632.9 1016.1 L642.6 1016.1 L654.2 1011.3 L661.9 1010.3"/>
<path stroke-width="2.2" d="M615.5 998.7 L623.2 989.0 L632.9 981.3 L640.6 973.5"/>
<path stroke-width="2.2" d="M603.9 1068.4 L613.5 1064.5 L623.2 1060.6"/>
<path stroke-width="2.2" d="M644.5 1089.7 L648.4 1103.2 L651.3 1114.8"/>
<path stroke-width="2.2" d="M483.9 1068.4 L491.6 1074.2 L501.3 1076.1 L504.2 1066.5"/>
<path stroke-width="2.2" d="M480.0 1083.9 L495.5 1083.9 L511.0 1083.9 L528.4 1083.9 L538.1 1085.8"/>
<path stroke-width="2.2" d="M538.1 1083.9 L557.4 1093.5 L576.8 1103.2 L596.1 1112.9 L615.5 1120.6 L627.1 1126.5"/>
<path stroke-width="2.2" d="M540.0 1095.5 L557.4 1101.3 L576.8 1109.0 L596.1 1116.8 L615.5 1122.6"/>
<path stroke-width="2.2" d="M543.9 1107.1 L561.3 1112.9 L580.6 1116.8 L600.0 1120.6"/>
<path stroke-width="2.2" d="M526.5 1116.8 L530.3 1114.8 L538.1 1116.8"/>
<path stroke-width="2.2" d="M594.2 1149.7 L598.1 1138.1 L603.9 1130.3"/>
<path stroke-width="2.2" d="M600.0 1128.4 L607.7 1140.0 L613.5 1153.5 L615.5 1165.2"/>
</g>
<g fill="none" stroke="#cfcfcf" stroke-width="1" stroke-linecap="round" stroke-linejoin="round">
<path d="M484.8 1191.6 L495.0 1184.8 L508.5 1176.4 L522.1 1169.6"/>
<path d="M488.2 1217.0 L498.4 1208.5 L508.5 1198.4 L518.7 1193.3 L525.5 1192.5"/>
<path d="M488.2 1222.1 L501.8 1220.4 L515.3 1222.1 L525.5 1230.6 L534.0 1242.4 L539.0 1252.6 L542.4 1262.7"/>
<path d="M500.1 1206.9 L511.9 1208.5 L525.5 1215.3 L535.6 1223.8 L545.8 1234.0 L556.0 1242.4 L566.1 1245.8"/>
<path d="M515.3 1239.0 L525.5 1245.8 L532.3 1256.0 L537.3 1266.1 L542.4 1270.4"/>
<path d="M522.1 1252.6 L530.6 1257.7 L539.0 1261.0 L549.2 1259.4"/>
<path d="M525.5 1198.4 L532.3 1208.5 L537.3 1218.7"/>
<path d="M557.7 1242.4 L559.4 1249.2 L552.6 1255.1"/>
</g>
</g>
<path d="M295.2 984.3 L303.5 983.5 L309.0 998.1 L326.0 976.8 L332.0 990.3 L323.5 998.1 L332.0 1006.5 L350.2 1009.0 L363.5 1005.3 L384.0 1004.1 L398.5 1006.5 L414.3 1009.0 L415.5 1031.9 L425.2 1036.8 L428.8 1029.5 L429.5 1021.0 L451.8 1002.9 L479.8 978.7 L478.4 970.2 L481.3 966.1 L492.9 970.2 L496.5 975.8 L503.8 975.1 L507.4 963.0 L496.5 962.3 L496.5 955.7 L509.8 956.9 L512.7 953.3 L497.7 941.2 L468.7 937.6 L468.2 921.9 L463.4 920.6 L468.7 912.2 L485.6 908.5 L492.9 902.5 L512.3 892.8 L513.5 885.6 L519.5 883.1 L519.5 862.6 L515.9 855.3 L515.9 838.4 L507.4 833.5 L506.9 823.9 L515.2 825.1 L517.1 831.6 L542.5 834.0 L558.1 829.9 L559.4 833.1 L577.5 828.7 L599.3 820.2 L595.6 806.5 L610.9 806.7 L621.0 814.2 L633.1 826.3 L650.1 821.0 L665.8 829.9 L685.2 837.2 L704.5 854.1 L717.8 868.6 L726.3 874.7 L740.8 886.8 L757.7 903.7 L772.3 920.6 L781.9 937.6 L796.5 964.2 L811.0 991.3 L766.2 994.4 L765.0 991.3 L752.9 993.7 L748.1 996.1 L733.5 994.4 L709.4 1000.5 L692.9 1006.0 L694.8 1017.4 L708.1 1023.5 L710.6 1034.4 L715.4 1053.7 L716.6 1063.4 L717.8 1062.1 L732.3 1064.5 L743.2 1083.9 L759.0 1074.2 L762.6 1071.8 L761.4 1061.6 L767.4 1056.8 L778.3 1060.2 L768.6 1081.5 L772.7 1087.5 L754.1 1091.6 L757.7 1132.3 L746.1 1131.0 L745.2 1143.1 L746.1 1150.4 L744.4 1158.9 L733.5 1164.9 L732.3 1174.6 L721.9 1173.4 L719.0 1183.1 L704.0 1185.0 L704.5 1208.5 L688.8 1209.2 L688.1 1214.5 L682.7 1215.0 L682.7 1238.7 L679.1 1250.8 L674.3 1262.9 L664.6 1273.8 L663.4 1283.5 L642.8 1284.2 L633.9 1277.4 L638.0 1269.0 L646.5 1243.5 L641.6 1231.5 L640.4 1216.9 L635.6 1204.8 L629.5 1192.7 L622.3 1180.6 L612.6 1168.5 L605.3 1163.7 L589.6 1154.5 L584.8 1156.5 L544.8 1134.2 L545.5 1135.7 L545.0 1132.3 L537.3 1130.3 L534.8 1133.7 L523.8 1131.0 L520.4 1134.4 L507.7 1128.6 L502.6 1134.9 L508.5 1148.4 L506.9 1153.5 L497.0 1158.6 L497.0 1162.0 L493.3 1162.8 L490.3 1171.0 L499.2 1173.0 L499.7 1175.5 L520.1 1166.5 L524.1 1171.3 L522.9 1190.8 L528.9 1191.6 L537.3 1200.1 L544.1 1208.5 L542.4 1213.6 L549.2 1223.8 L557.7 1234.8 L566.1 1239.9 L578.0 1244.5 L577.1 1250.9 L566.1 1250.0 L559.4 1254.3 L552.6 1255.1 L550.0 1259.4 L557.7 1264.4 L555.6 1272.1 L545.0 1274.3 L542.4 1270.4 L539.0 1272.1 L522.9 1270.4 L521.2 1261.0 L517.0 1250.9 L511.9 1239.0 L506.9 1232.3 L487.9 1228.9 L487.4 1220.4 L484.8 1208.5 L482.3 1192.5 L471.3 1188.2 L461.1 1189.1 L432.3 1185.7 L415.7 1180.6 L415.4 1150.1 L432.3 1129.4 L433.2 1115.8 L435.5 1113.9 L436.1 1097.4 L433.2 1091.6 L423.5 1074.2 L413.9 1062.6 L404.2 1057.7 L394.5 1056.8 L388.7 1053.9 L385.8 1047.5 L380.0 1047.5 L365.9 1054.8 L365.5 1058.7 L349.0 1066.1 L348.1 1072.3 L333.0 1077.7 L330.6 1074.2 L322.5 1076.1 L321.0 1068.4 L313.6 1064.1 L319.0 1060.6 L316.7 1041.3 L319.0 1031.2 L303.2 1023.9 L298.7 1003.5Z" fill="none" stroke="#2e2e2e" stroke-width="1.2" stroke-linejoin="round"/>
<g fill="none" stroke="#189de5" stroke-width="2.2" stroke-linecap="round" stroke-dasharray="1.2 4.4">
<path d="M514.2 778.0 L537.2 883.5"/>
<path d="M726.3 874.7 L669.4 930.8"/>
<path d="M811.0 992.8 L661.0 1013.1"/>
<path d="M802.0 1077.6 L882.6 1121.6"/>
<path d="M888.4 1112.1 L1040.8 1217.1"/>
<path d="M688.8 1173.4 L780.0 1190.0 L980.9 1223.9"/>
<path d="M692.0 1177.2 L780.0 1193.6 L980.9 1228.0"/>
<path d="M681.5 1173.4 L555.5 1319.0"/>
<path d="M901.3 1252.7 L1022.9 1261.9"/>
<path d="M1181.0 1074.2 L993.4 1219.9"/>
<path d="M996.8 1225.6 L1162.8 1308.6 L1166.2 1319.0"/>
<path d="M1181.0 1131.8 L1055.0 1214.4"/>
</g>
<g transform="translate(545.4 952.6)"><path d="M0 0C-1.3 -2.9 -4.85 -5.3 -4.85 -8.8A4.85 4.85 0 0 1 4.85 -8.8C4.85 -5.3 1.3 -2.9 0 0Z" fill="#0a0a0a"/><circle cx="0" cy="-8.7" r=".85" fill="#fff"/></g>
<text x="534.7" y="949.3" text-anchor="end" font-size="10.6" letter-spacing="0.17" fill="#000" stroke="#000" stroke-width=".15">Le Chalet d’Adrien</text>
<g transform="translate(694.4 927.4)"><path d="M0 0C-1.3 -2.9 -4.85 -5.3 -4.85 -8.8A4.85 4.85 0 0 1 4.85 -8.8C4.85 -5.3 1.3 -2.9 0 0Z" fill="#0a0a0a"/><circle cx="0" cy="-8.7" r=".85" fill="#fff"/></g>
<text x="703.3" y="924.1" font-size="10.6" letter-spacing="0.27" fill="#000" stroke="#000" stroke-width=".15">Golf club</text>
<g transform="translate(457.1 1049.6)"><path d="M0 0C-1.3 -2.9 -4.85 -5.3 -4.85 -8.8A4.85 4.85 0 0 1 4.85 -8.8C4.85 -5.3 1.3 -2.9 0 0Z" fill="#0a0a0a"/><circle cx="0" cy="-8.7" r=".85" fill="#fff"/></g>
<text x="447.3" y="1046.3" text-anchor="end" font-size="10.6" letter-spacing="0.28" fill="#000" stroke="#000" stroke-width=".15">Parking Perin</text>
<g transform="translate(559.0 1089.3)"><path d="M0 0C-1.3 -2.9 -4.85 -5.3 -4.85 -8.8A4.85 4.85 0 0 1 4.85 -8.8C4.85 -5.3 1.3 -2.9 0 0Z" fill="#0a0a0a"/><circle cx="0" cy="-8.7" r=".85" fill="#fff"/></g>
<text x="568.0" y="1086.0" font-size="10.6" letter-spacing="-0.04" fill="#000" stroke="#000" stroke-width=".15">Coop</text>
<g transform="translate(533.2 1100.9)"><path d="M0 0C-1.3 -2.9 -4.85 -5.3 -4.85 -8.8A4.85 4.85 0 0 1 4.85 -8.8C4.85 -5.3 1.3 -2.9 0 0Z" fill="#0a0a0a"/><circle cx="0" cy="-8.7" r=".85" fill="#fff"/></g>
<text x="524.3" y="1097.6" text-anchor="end" font-size="10.6" letter-spacing="0.22" fill="#000" stroke="#000" stroke-width=".15">Migros</text>
<g transform="translate(460.3 1147.3)"><path d="M0 0C-1.3 -2.9 -4.85 -5.3 -4.85 -8.8A4.85 4.85 0 0 1 4.85 -8.8C4.85 -5.3 1.3 -2.9 0 0Z" fill="#0a0a0a"/><circle cx="0" cy="-8.7" r=".85" fill="#fff"/></g>
<text x="451.4" y="1144.0" text-anchor="end" font-size="10.6" letter-spacing="0.26" fill="#000" stroke="#000" stroke-width=".15">Verbier-Village</text>
<g transform="translate(682.3 1195.2)"><path d="M0 0C-1.3 -2.9 -4.85 -5.3 -4.85 -8.8A4.85 4.85 0 0 1 4.85 -8.8C4.85 -5.3 1.3 -2.9 0 0Z" fill="#0a0a0a"/><circle cx="0" cy="-8.7" r=".85" fill="#fff"/></g>
<text x="673.9" y="1191.9" text-anchor="end" font-size="10.6" letter-spacing="0.11" fill="#000" stroke="#000" stroke-width=".15">W Verbier</text>
<rect x="80.2" y="1205.6" width="14.4" height="14.4" fill="#a5b0db" stroke="#fff" stroke-width="1.6"/>
<text x="101" y="1210.3" font-size="11.2" letter-spacing="0.95" fill="#141414">Segment supérieur</text>
<text x="101" y="1224.0" font-size="11.2" letter-spacing="1.08" fill="#7d7d7d">Upper segment</text>
<rect x="80.2" y="1239.5" width="14.4" height="14.4" fill="#cfd8f0" stroke="#fff" stroke-width="1.6"/>
<text x="101" y="1244.2" font-size="11.2" letter-spacing="0.99" fill="#141414">Segment intermédiaire</text>
<text x="101" y="1257.9" font-size="11.2" letter-spacing="1.06" fill="#7d7d7d">Middle segment</text>
<rect x="80.2" y="1273.4" width="14.4" height="14.4" fill="#e2e8f6" stroke="#fff" stroke-width="1.6"/>
<text x="101" y="1278.1" font-size="11.2" letter-spacing="0.92" fill="#141414">Segment inférieur</text>
<text x="101" y="1291.8" font-size="11.2" letter-spacing="1.02" fill="#7d7d7d">Lower segment</text>
</svg>
<!--/MAPSVG-->
</div>

<!-- methodology FR -->
<div class="t fr hd" style="top:1365.5px">Méthodologie</div>
<div class="t fr j" style="top:1404.5px;letter-spacing:0.85px">Les prix précités sont des prix de l’offre. Ils sont indiqués en CHF par</div>
<div class="t fr j" style="top:1425.5px;letter-spacing:0.85px">m² de surface utile et basés sur un recensement périodique du marché.</div>
<div class="t fr j" style="top:1463.5px;letter-spacing:0.85px">SCHMIDT immobilier à titre d’auteur de cette analyse exclut par avance</div>
<div class="t fr j" style="top:1484.5px;letter-spacing:0.84px">toute responsabilité pour l’usage et l’interprétation que des tiers pourraient</div>
<div class="t fr j" style="top:1505.5px;letter-spacing:0.85px">en faire. Les données et informations contenues sont uniquement fournies</div>
<div class="t fr" style="top:1526.5px;letter-spacing:0.99px">à titre d’information.</div>
<div class="t fr j" style="top:1564.5px;letter-spacing:0.85px">SCHMIDT immobilier décline toute responsabilité sur la complétude,</div>
<div class="t fr" style="top:1585.5px;letter-spacing:0.78px">l’exactitude et l’actualité de ces données.</div>
<div class="t fr" style="top:1624.5px;letter-spacing:1.04px">Toute reproduction même partielle est strictement interdite.</div>

<!-- methodology EN -->
<div class="t eng hd en" style="top:1366.5px">Methodology</div>
<div class="t eng en j" style="top:1405.5px;letter-spacing:0.57px">The above prices are offer prices. They are quoted in CHF per m² of available</div>
<div class="t eng en" style="top:1425.5px;letter-spacing:0.83px">floor space and are based upon a periodical market survey conducted.</div>
<div class="t eng en j" style="top:1464.5px;letter-spacing:0.6px">SCHMIDT real estate, as the author of this analysis, excludes in advance any</div>
<div class="t eng en j" style="top:1485.5px;letter-spacing:0.85px">responsibility for the use and interpretation that third parties may make</div>
<div class="t eng en j" style="top:1506.5px;letter-spacing:0.85px">of it. The data and information contained in this analysis are provided for</div>
<div class="t eng en" style="top:1526.5px;letter-spacing:0.98px">information purposes only.</div>
<div class="t eng en j" style="top:1565.5px;letter-spacing:0.79px">SCHMIDT real estate declines all responsibility for the comprehensiveness,</div>
<div class="t eng en" style="top:1586.5px;letter-spacing:0.74px">accuracy and relevance of this data.</div>
<div class="t eng en" style="top:1624.5px;letter-spacing:0.81px">Any reproduction, even partial, is strictly forbidden.</div>

<div class="rule" style="top:1694px"></div>

</body>
</html>
